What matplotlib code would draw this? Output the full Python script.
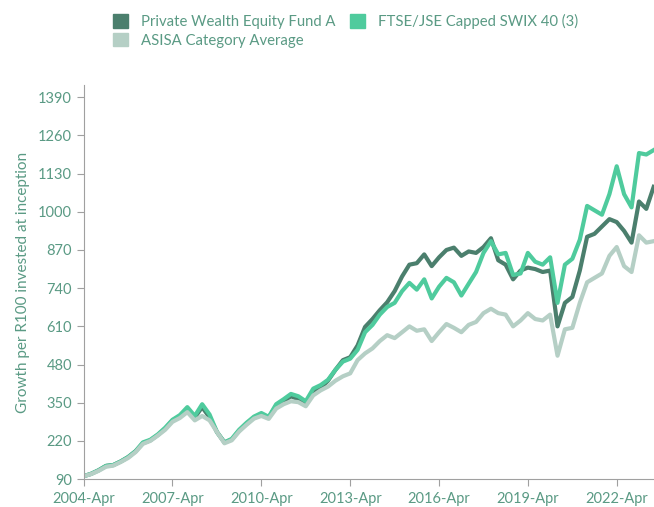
import pandas as pd
import matplotlib.pyplot as plt
import matplotlib.dates as mdates
from matplotlib.patches import Patch

# quarterly points, Apr 2004 .. Jul 2023
dates = pd.date_range("2004-04-01", "2023-07-01", freq="3MS")

fund_a = [100, 108, 120, 135, 138, 150, 165, 185, 212, 222, 240, 262,
          290, 303, 320, 300, 335, 300, 250, 215, 225, 255, 278, 300,
          310, 300, 340, 355, 372, 362, 345, 385, 400, 425, 462, 495,
          505, 545, 608, 635, 665, 692, 730, 780, 820, 825, 855, 815,
          845, 870, 878, 850, 865, 860, 880, 910, 835, 820, 770, 800,
          810, 805, 795, 800, 610, 690, 710, 800, 915, 925, 950, 975,
          965, 935, 895, 1035, 1010, 1085]
swix40 = [100, 108, 120, 135, 138, 150, 165, 185, 215, 224, 242, 265,
          292, 308, 335, 305, 345, 310, 250, 215, 227, 258, 282, 303,
          315, 302, 345, 362, 380, 372, 355, 398, 410, 428, 462, 490,
          500, 530, 590, 615, 650, 676, 690, 730, 758, 735, 770, 705,
          745, 775, 760, 715, 755, 795, 860, 900, 855, 860, 785, 790,
          860, 830, 820, 845, 690, 820, 840, 905, 1020, 1005, 990, 1060,
          1155, 1060, 1015, 1200, 1195, 1210]
asisa = [100, 107, 118, 132, 136, 148, 162, 182, 210, 220, 238, 258,
         285, 298, 318, 290, 305, 290, 250, 212, 222, 252, 275, 296,
         305, 295, 330, 345, 355, 352, 338, 375, 392, 405, 425, 440,
         450, 495, 518, 535, 560, 580, 570, 590, 610, 595, 600, 560,
         590, 618, 605, 590, 615, 625, 655, 670, 655, 650, 610, 630,
         655, 635, 630, 650, 510, 600, 605, 690, 760, 775, 790, 850,
         880, 815, 795, 920, 895, 900]

labels = ["Private Wealth Equity Fund A", "ASISA Category Average", "FTSE/JSE Capped SWIX 40 (3)"]
c_dark = "#4b7f6d"
c_green = "#4fcb9d"
c_grey = "#b5cfc5"
c_text = "#5a9a84"

plt.rcParams["font.family"] = ["Lato", "DejaVu Sans"]

fig = plt.figure(figsize=(6.54, 5.07), dpi=100)
ax = fig.add_axes([0.128, 0.055, 0.872, 0.777])

ax.plot(dates, fund_a, color=c_dark, lw=3, solid_joinstyle="round")
ax.plot(dates, swix40, color=c_green, lw=3, solid_joinstyle="round")
ax.plot(dates, asisa, color=c_grey, lw=3, solid_joinstyle="round")

ax.set_ylim(90, 1431)
ax.set_yticks(range(90, 1391, 130))
ax.set_xlim(pd.Timestamp("2004-04-01"), pd.Timestamp("2023-07-05"))
ax.set_xticks(pd.date_range("2004-04-01", "2022-04-01", freq="36MS"))
ax.xaxis.set_major_formatter(mdates.DateFormatter("%Y-%b"))

for s in ["top", "right"]:
    ax.spines[s].set_visible(False)
for s in ["left", "bottom"]:
    ax.spines[s].set_color("#a0a0a0")
ax.tick_params(colors="#a0a0a0", labelcolor=c_text, labelsize=10.5, length=5)
ax.tick_params(axis="x", pad=4)
ax.set_ylabel("Growth per R100 invested at inception", color=c_text, fontsize=11, labelpad=6)

handles = [Patch(color=c_dark), Patch(color=c_grey), Patch(color=c_green)]
fig.legend(handles, labels, loc="upper left", bbox_to_anchor=(0.162, 0.987),
           ncol=2, frameon=False, fontsize=10.7, labelcolor=c_text,
           handlelength=1.0, handleheight=1.0, columnspacing=1.0,
           labelspacing=0.27, handletextpad=0.85, borderpad=0)

fig.savefig("out.png", dpi=100)
